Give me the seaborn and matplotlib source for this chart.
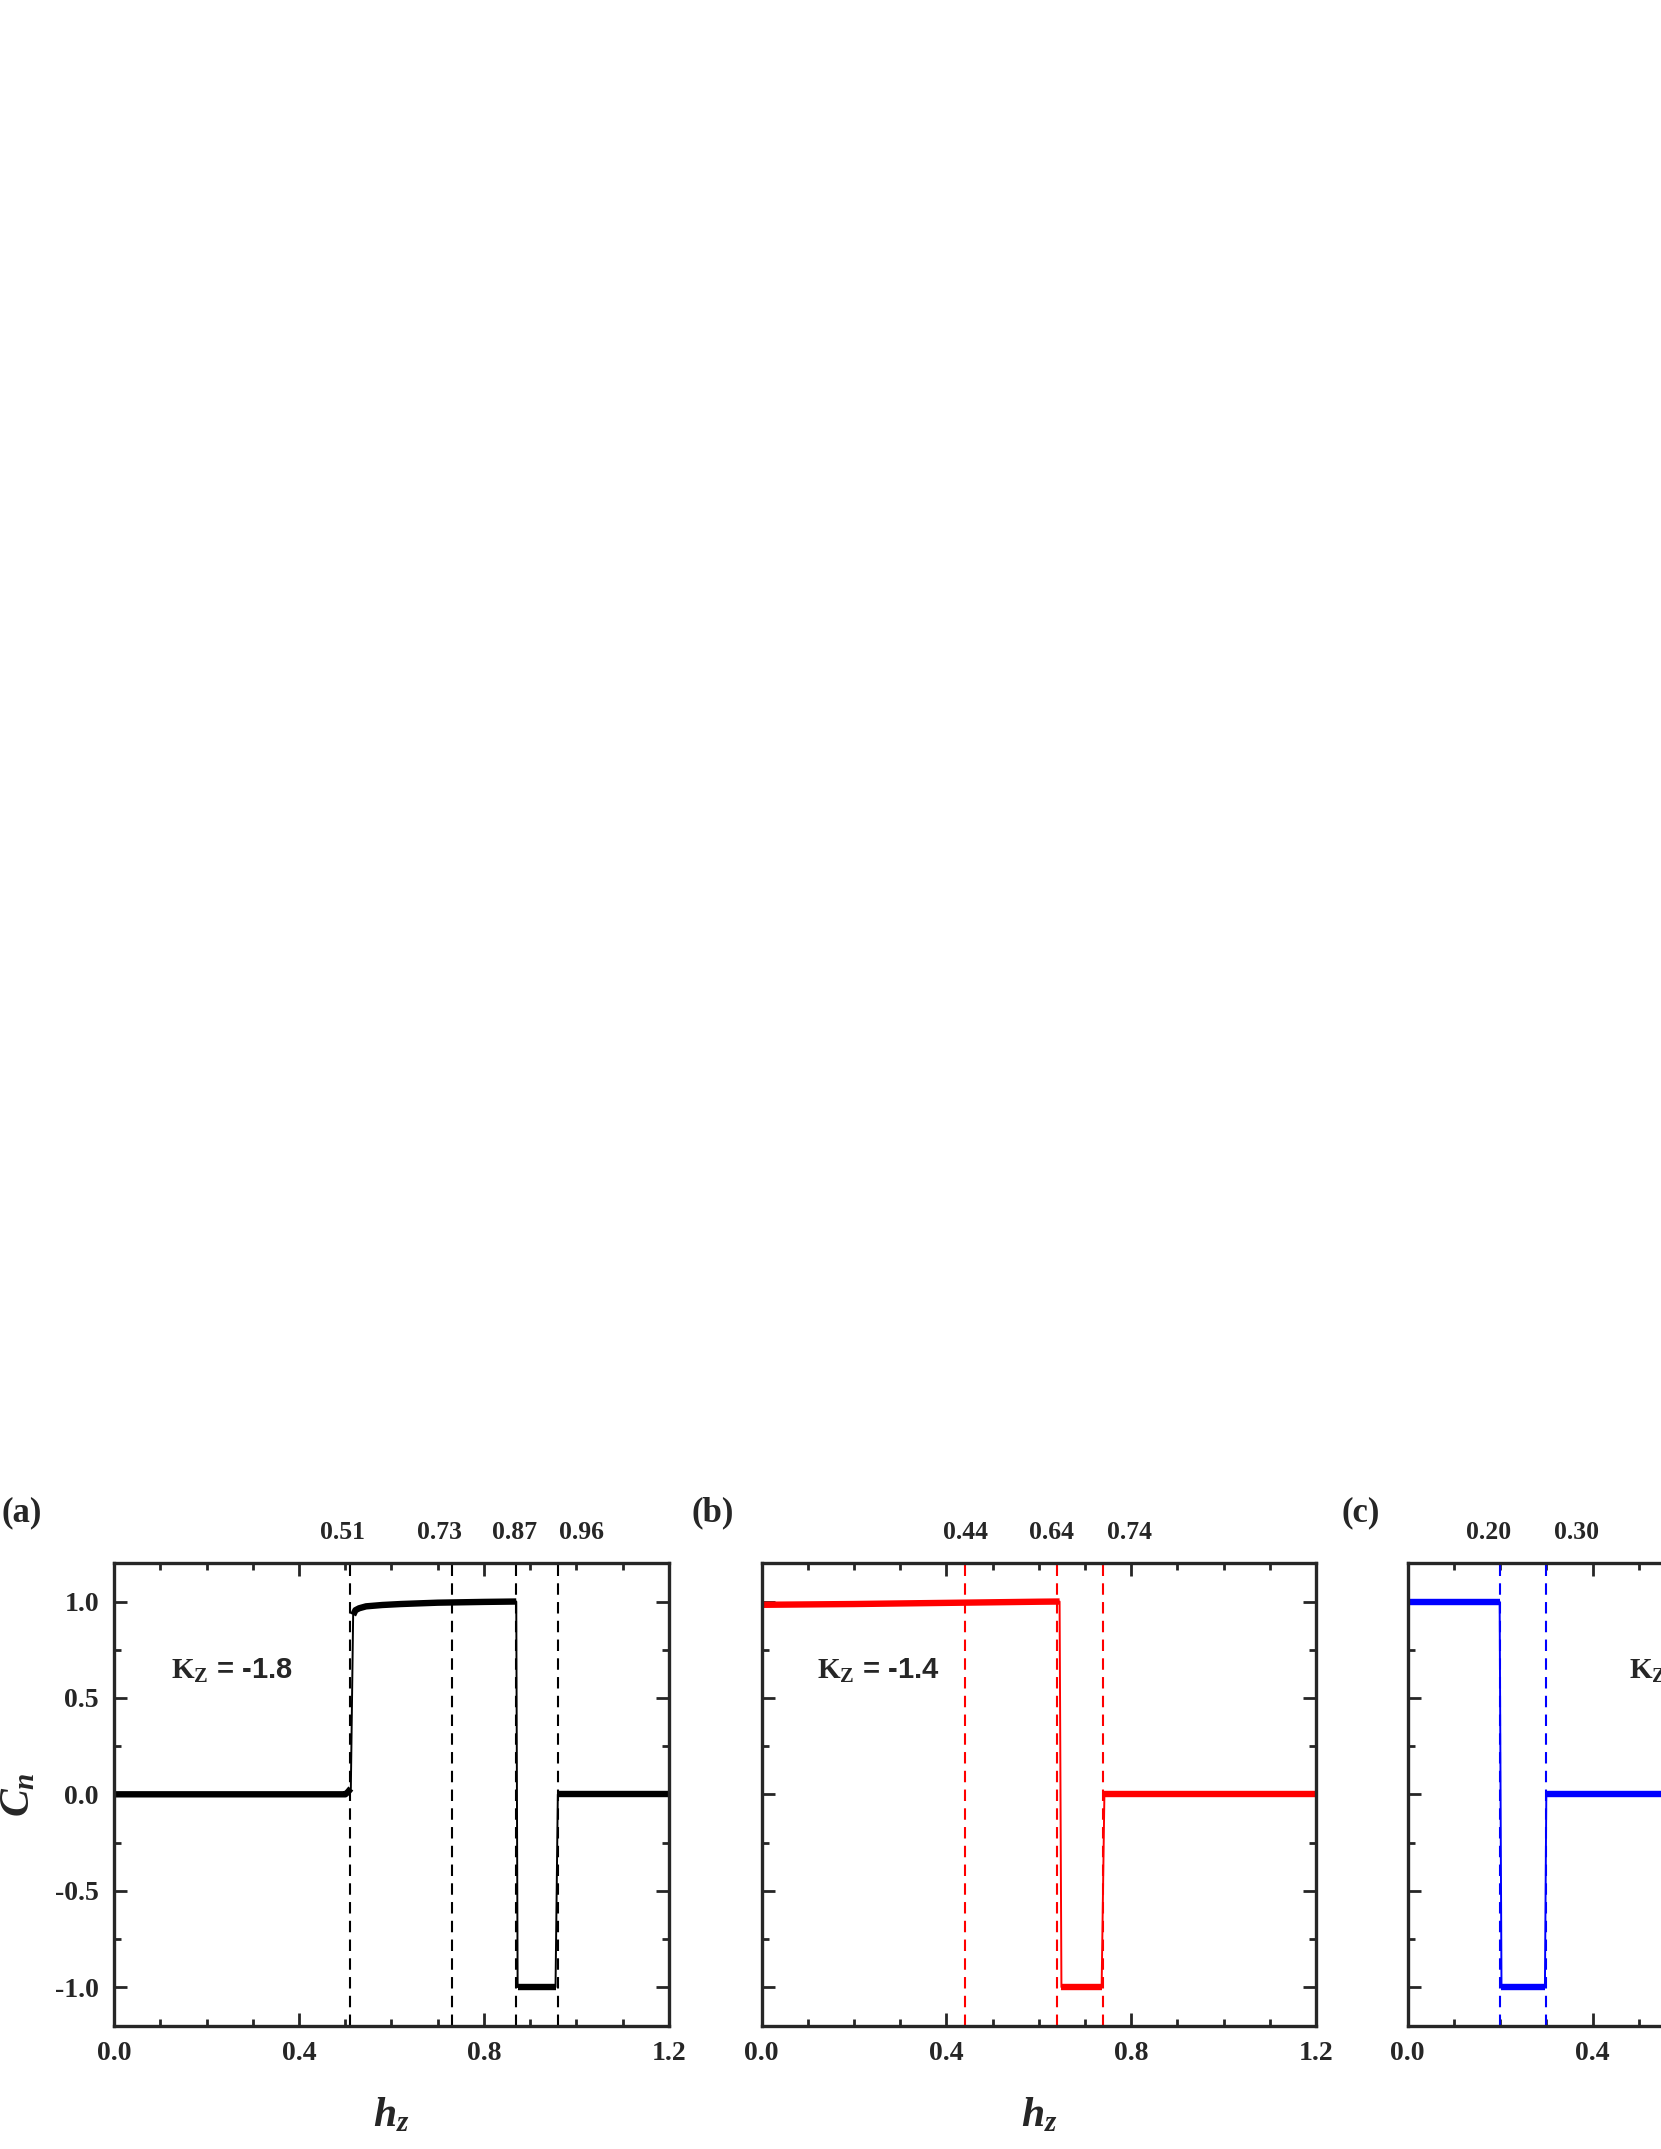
import pandas as pd
import seaborn as sns
import matplotlib.pyplot as plt
import matplotlib.transforms as mtransforms
from matplotlib.ticker import MultipleLocator


# panel (a): K_Z = -1.8
hz_a = [0.0, 0.25, 0.50, 0.505, 0.512, 0.517, 0.522, 0.53, 0.545, 0.58, 0.62,
        0.70, 0.80, 0.870, 0.873, 0.90, 0.955, 0.960, 1.0, 1.2]
cn_a = [0.0, 0.0, 0.0, 0.01, 0.03, 0.93, 0.955, 0.965, 0.975, 0.982, 0.987,
        0.994, 0.998, 1.0, -1.0, -1.0, -1.0, 0.0, 0.0, 0.0]
crit_a = [0.51, 0.73, 0.87, 0.96]
crit_a_text = ['0.51', '0.73', '0.87', '0.96']

# panel (b): K_Z = -1.4
hz_b = [0.0, 0.1, 0.2, 0.3, 0.4, 0.5, 0.6, 0.645, 0.649, 0.70, 0.736, 0.742,
        0.8, 1.0, 1.2]
cn_b = [0.983, 0.985, 0.987, 0.990, 0.993, 0.996, 0.999, 1.0, -1.0, -1.0, -1.0,
        0.0, 0.0, 0.0, 0.0]
crit_b = [0.44, 0.64, 0.74]
crit_b_text = ['0.44', '0.64', '0.74']

# panel (c): K_Z = -1.0 (cut off in the original)
hz_c = [0.0, 0.1, 0.199, 0.203, 0.25, 0.297, 0.300, 0.4, 0.6, 0.8, 1.0, 1.2]
cn_c = [1.0, 1.0, 1.0, -1.0, -1.0, -1.0, 0.0, 0.0, 0.0, 0.0, 0.0, 0.0]
crit_c = [0.20, 0.30]
crit_c_text = ['0.20', '0.30']

kz_text = ['-1.8', '-1.4', '-1.0']
panel_tags = ['(a)', '(b)', '(c)']
colors = ['black', '#ff0000', '#0000ff']

# where the critical-field labels sit above each panel (data x)
label_x_a = [0.495, 0.703, 0.866, 1.011]
label_x_b = [0.441, 0.628, 0.796]
label_x_c = [0.176, 0.365]


def draw_panel(ax, hz, cn, crit, crit_text, label_x, color, kz, kz_x):
    df = pd.DataFrame({'hz': hz, 'cn': cn})
    df['seg'] = (df['cn'].diff().abs() > 0.3).cumsum()
    # thin line through every point, thick line on the plateaus only
    sns.lineplot(data=df, x='hz', y='cn', color=color, lw=1.4, sort=False,
                 estimator=None, ax=ax)
    sns.lineplot(data=df, x='hz', y='cn', units='seg', color=color, lw=4.6,
                 sort=False, estimator=None, ax=ax, solid_capstyle='butt')
    for x in crit:
        ax.axvline(x, color=color, lw=1.5, ls=(0, (5.5, 3.5)), zorder=1)
    trans = mtransforms.blended_transform_factory(ax.transData, ax.transAxes)
    for x, t in zip(label_x, crit_text):
        ax.text(x, 1.066, t, transform=trans, ha='center', va='center',
                fontsize=18.5, fontweight='bold', clip_on=False)
    ax.text(kz_x, 0.6, r'$\mathbf{K}_{\mathbf{Z}}$ = ' + kz,
            family='Liberation Sans', fontweight='bold', fontsize=21,
            va='baseline')

    ax.set_xlim(0, 1.2)
    ax.set_ylim(-1.2, 1.2)
    ax.xaxis.set_major_locator(MultipleLocator(0.4))
    ax.xaxis.set_minor_locator(MultipleLocator(0.1))
    ax.yaxis.set_major_locator(MultipleLocator(0.5))
    ax.yaxis.set_minor_locator(MultipleLocator(0.25))
    ax.tick_params(which='both', direction='in', top=True, right=True,
                   width=2, labelsize=20, pad=11)
    ax.tick_params(which='major', length=9.5)
    ax.tick_params(which='minor', length=5)
    for sp in ax.spines.values():
        sp.set_linewidth(2.4)
    ax.set_xlabel('')
    ax.set_ylabel('')


sns.set_theme(style='ticks')
plt.rcParams['font.family'] = ['Liberation Serif', 'DejaVu Serif']
plt.rcParams['font.weight'] = 'bold'
plt.rcParams['axes.unicode_minus'] = False
plt.rcParams['mathtext.fontset'] = 'custom'
plt.rcParams['mathtext.rm'] = 'Liberation Serif:bold'
plt.rcParams['mathtext.bf'] = 'Liberation Serif:bold'
plt.rcParams['mathtext.it'] = 'Liberation Serif:italic:bold'

fig = plt.figure(figsize=(16.61, 21.49), dpi=100)
lefts = [0.0688, 0.4585, 0.8475]
axes = [fig.add_axes([l, 0.0574, 0.3338, 0.2153]) for l in lefts]

draw_panel(axes[0], hz_a, cn_a, crit_a, crit_a_text, label_x_a, colors[0],
           kz_text[0], 0.123)
draw_panel(axes[1], hz_b, cn_b, crit_b, crit_b_text, label_x_b, colors[1],
           kz_text[1], 0.121)
draw_panel(axes[2], hz_c, cn_c, crit_c, crit_c_text, label_x_c, colors[2],
           kz_text[2], 0.48)

axes[0].set_ylabel(r'$C_n$', fontsize=30, labelpad=12)
for ax in axes:
    ax.set_xlabel(r'$h_z$', fontsize=30, labelpad=22)
for ax in axes[1:]:
    ax.tick_params(labelleft=False)

tag_x = [0.0132, 0.429, 0.8194]
for x, tag in zip(tag_x, panel_tags):
    fig.text(x, 0.2962, tag, fontsize=25, fontweight='bold',
             ha='center', va='center')

fig.savefig('out.png', dpi=100)
